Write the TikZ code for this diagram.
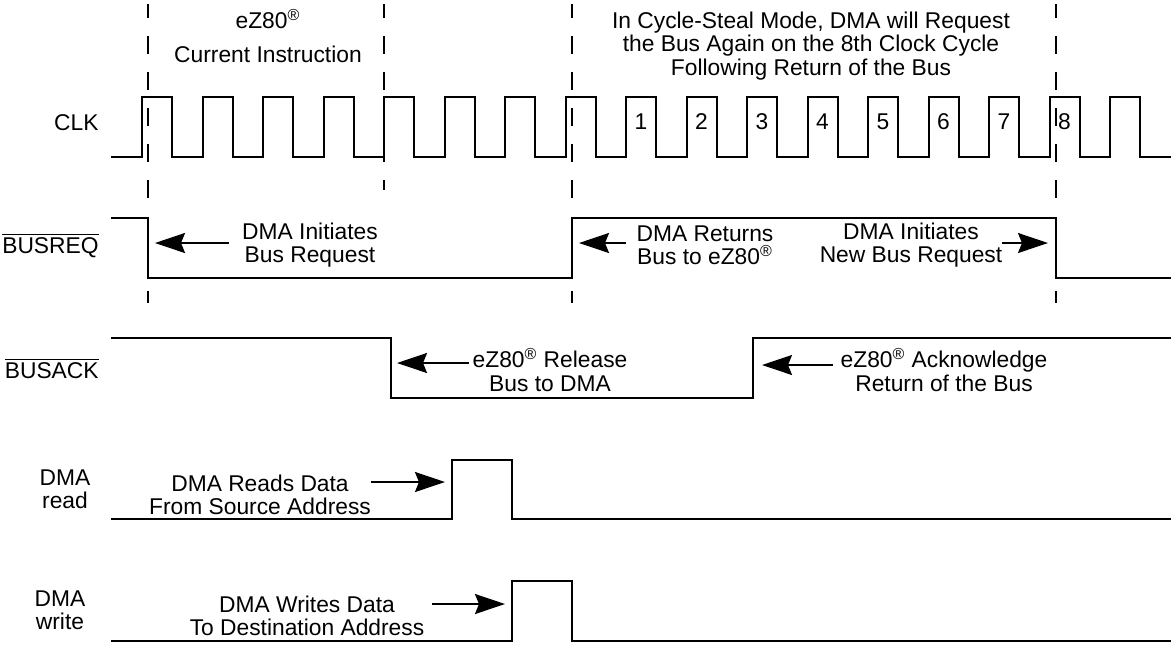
\documentclass[tikz,border=0pt]{standalone}
\usepackage{fontspec}
\setmainfont{Liberation Sans}
\usepackage{tikz}
\usetikzlibrary{arrows.meta,positioning}

\newcommand{\ezreg}{eZ80\textsuperscript{\textregistered}}
\newcommand{\sigbar}[1]{$\overline{\mbox{#1}}$}

\begin{document}
\begin{tikzpicture}[
      x=0.5pt, y=-0.5pt,
      sig_line/.style={
         line width=1pt,
         line join=miter},
      dash_mark/.style={
         line width=0.8pt,
         dash pattern=on 9pt off 9pt,
         dash phase=2pt},
      lbl_text/.style={
         align=center,
         inner sep=0pt,
         font=\fontsize{11.4}{11.6}\selectfont},
      sig_name/.style={
         anchor=base east,
         inner sep=0pt,
         font=\fontsize{11.4}{11.6}\selectfont},
      arrow_fill/.style={
         -{Stealth[length=15pt,width=10pt,inset=2pt]},
         line width=1pt}
]
      \useasboundingbox (0,0) rectangle (1171,644);

      %signal names
      \node[sig_name] (clk) at (99,130) {CLK};
      \node[sig_name] (busreq) at (99,253) {\sigbar{BUSREQ}};
      \node[sig_name] (busack) at (99,378) {\sigbar{BUSACK}};
      \node[lbl_text] (dmard) at (65,489) {DMA\\read};
      \node[lbl_text] (dmawr) at (60,610) {DMA\\write};

      %clock
      \draw[sig_line] (111,157) -- (142,157)
        \foreach \k in {1,...,17}{ -- ++(0,-60) -- ++(30.25,0) -- ++(0,60) -- ++(30.25,0) };
      \foreach \n in {1,...,8}
        \node[lbl_text] (cyc\n) at ({641+60.5*(\n-1)},122) {\n};

      %bus request, bus acknowledge, read, write
      \draw[sig_line] (111,218) -- (148,218) -- (148,278) -- (572,278) -- (572,218)
        -- (1056,218) -- (1056,278) -- (1171,278);
      \draw[sig_line] (111,338) -- (391,338) -- (391,398) -- (753,398) -- (753,338) -- (1171,338);
      \draw[sig_line] (111,519) -- (452,519) -- (452,460) -- (512,460) -- (512,519) -- (1171,519);
      \draw[sig_line] (111,641) -- (512,641) -- (512,581) -- (572,581) -- (572,641) -- (1171,641);

      %markers
      \foreach \x in {148,572,1056}{
        \draw[dash_mark] (\x,4) -- (\x,198);
        \draw[line width=0.8pt] (\x,291) -- (\x,303);
      }
      \draw[dash_mark] (384,4) -- (384,190);

      %notes
      \node[lbl_text] (instr) at (268,36) {\ezreg\\[5pt]Current Instruction};
      \node[lbl_text] (steal) at (811,46) {In Cycle-Steal Mode, DMA will Request\\the Bus Again on the 8th Clock Cycle\\Following Return of the Bus};
      \node[lbl_text] (reqtxt) at (310,245) {DMA Initiates\\Bus Request};
      \node[lbl_text] (rettxt) at (705,245) {DMA Returns\\Bus to \ezreg};
      \node[lbl_text] (newtxt) at (911,245) {DMA Initiates\\New Bus Request};
      \node[lbl_text] (reltxt) at (550,370) {\ezreg{} Release\\Bus to DMA};
      \node[lbl_text] (acktxt) at (944,370) {\ezreg{} Acknowledge\\Return of the Bus};
      \node[lbl_text] (rdtxt) at (260,495) {DMA Reads Data\\From Source Address};
      \node[lbl_text] (wrtxt) at (307,616) {DMA Writes Data\\To Destination Address};

      \coordinate (reqtail) at (229,243);
      \coordinate (reqtip) at (155,243);
      \coordinate (rettail) at (626,243);
      \coordinate (rettip) at (579,243);
      \coordinate (newtail) at (1002,243);
      \coordinate (newtip) at (1048,243);
      \coordinate (reltail) at (469,363);
      \coordinate (reltip) at (397,363);
      \coordinate (acktail) at (833,365);
      \coordinate (acktip) at (762,365);
      \coordinate (rdtail) at (371,482);
      \coordinate (rdtip) at (445,482);
      \coordinate (wrtail) at (432,604);
      \coordinate (wrtip) at (505,604);

      \foreach \i/\j in {reqtail/reqtip, rettail/rettip, newtail/newtip,
        reltail/reltip, acktail/acktip, rdtail/rdtip, wrtail/wrtip}
        \draw[arrow_fill] (\i) -- (\j);
\end{tikzpicture}
\end{document}
